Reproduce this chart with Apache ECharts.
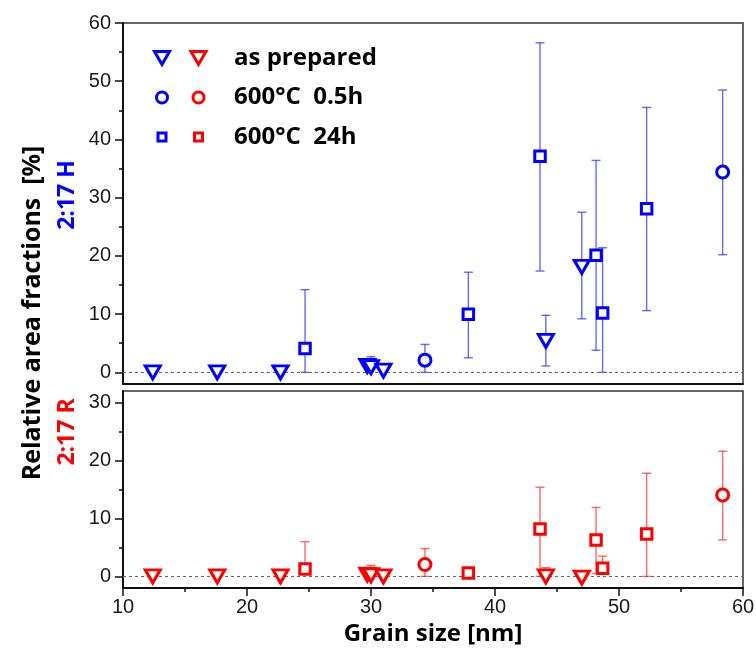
<!DOCTYPE html>
<html><head><meta charset="utf-8">
<script src="https://cdn.jsdelivr.net/npm/echarts@6/dist/echarts.min.js"></script>
<style>html,body{margin:0;padding:0;background:#fff}#c{width:756px;height:655px}</style>
</head><body><div id="c"></div>
<script>
// ---- axis ticks ----
const xTicks = [10, 20, 30, 40, 50, 60];
const yTicksH = [0, 10, 20, 30, 40, 50, 60];
const yMinorH = [5, 15, 25, 35, 45, 55];
const yTicksR = [0, 10, 20, 30];
const yMinorR = [5, 15, 25];

// ---- 2:17 H (top panel, blue) ----
const prepH_x  = [12.4, 17.6, 22.7, 29.7, 30.0, 31.0, 44.1, 47.0];
const prepH_y  = [0, 0, 0, 1.1, 0.9, 0.3, 5.4, 18.1];
const prepH_lo = [0, 0, 0, 1.1, 0.9, 0.3, 1.1, 9.2];
const prepH_hi = [0, 0, 0, 1.1, 2.7, 0.3, 9.8, 27.5];

const circH_x  = [34.35, 58.36];
const circH_y  = [2.1, 34.4];
const circH_lo = [0, 20.2];
const circH_hi = [4.8, 48.5];

const sqH_x  = [24.68, 37.85, 43.63, 48.15, 48.68, 52.23];
const sqH_y  = [4.1, 10.0, 37.1, 20.1, 10.2, 28.1];
const sqH_lo = [0, 2.5, 17.4, 3.8, 0, 10.6];
const sqH_hi = [14.2, 17.2, 56.6, 36.4, 21.4, 45.5];

// ---- 2:17 R (bottom panel, red) ----
const prepR_x  = [12.4, 17.6, 22.7, 29.7, 30.0, 31.0, 44.1, 47.0];
const prepR_y  = [0, 0, 0, 0.3, 0.2, 0, 0, -0.2];
const prepR_lo = [0, 0, 0, 0.3, 0.2, 0, 0, -0.2];
const prepR_hi = [0, 0, 0, 0.3, 1.9, 0, 1.5, -0.2];

const circR_x  = [34.35, 58.36];
const circR_y  = [2.06, 14.06];
const circR_lo = [0, 6.3];
const circR_hi = [4.8, 21.6];

const sqR_x  = [24.68, 37.85, 43.63, 48.15, 48.68, 52.23];
const sqR_y  = [1.3, 0.6, 8.2, 6.3, 1.4, 7.3];
const sqR_lo = [1.3, 0.6, 0, 0.5, 1.4, 0];
const sqR_hi = [6.0, 0.6, 15.4, 11.9, 3.5, 17.8];

const legendLabels = ['as prepared', '600°C  0.5h', '600°C  24h'];

// ---- styling ----
const BLUE = '#0000ff', RED = '#ff0000';
const BLUE_ERR = 'rgba(40,40,255,0.7)', RED_ERR = 'rgba(255,40,40,0.7)';
const TRI = 'path://M0,0 L20,0 L10,17.3 Z';
const LEG_CIRCLE = 'path://M0,0 M2,7.5 a5.5,5.5 0 1,0 11,0 a5.5,5.5 0 1,0 -11,0 M15,15';
const LEG_SQUARE = 'path://M0,0 M3.5,3.5 L11.5,3.5 L11.5,11.5 L3.5,11.5 Z M15,15';
const TITLE_FONT = "'Open Sans', sans-serif";
const NUM_FONT = "'Liberation Sans', Arial, sans-serif";

function pts(xs, ys) { return xs.map((x, i) => [x, ys[i]]); }
function errPts(xs, ys, lo, hi) { return xs.map((x, i) => [x, ys[i], lo[i], hi[i]]); }

function errRender(color) {
  return function (params, api) {
    const x = api.value(0), y = api.value(1), lo = api.value(2), hi = api.value(3);
    const c = api.coord([x, y]);
    const style = { stroke: color, lineWidth: 1.4 };
    const w = 4.5;
    const ch = [];
    if (hi > y) {
      const p = api.coord([x, hi]);
      ch.push({ type: 'line', shape: { x1: p[0], y1: p[1], x2: c[0], y2: c[1] }, style: style });
      ch.push({ type: 'line', shape: { x1: p[0] - w, y1: p[1], x2: p[0] + w, y2: p[1] }, style: style });
    }
    if (lo < y) {
      const p = api.coord([x, lo]);
      ch.push({ type: 'line', shape: { x1: p[0], y1: p[1], x2: c[0], y2: c[1] }, style: style });
      ch.push({ type: 'line', shape: { x1: p[0] - w, y1: p[1], x2: p[0] + w, y2: p[1] }, style: style });
    }
    return { type: 'group', children: ch };
  };
}

function errSeries(idx, data, color) {
  return {
    type: 'custom', xAxisIndex: idx, yAxisIndex: idx, renderItem: errRender(color),
    data: data, encode: { x: 0, y: [1, 2, 3] }, silent: true, z: 2, clip: false
  };
}

function scat(name, idx, data, color, symbol, size) {
  return {
    name: name, type: 'scatter', xAxisIndex: idx, yAxisIndex: idx,
    data: data, symbol: symbol, symbolSize: size, z: 5,
    itemStyle: { color: '#ffffff', borderColor: color, borderWidth: 3, opacity: 1 },
    emphasis: { disabled: true }
  };
}

const zeroLine = (idx) => ({
  type: 'line', xAxisIndex: idx, yAxisIndex: idx, data: [], z: 1,
  markLine: {
    silent: true, symbol: 'none', label: { show: false },
    lineStyle: { type: [3, 3], color: '#666', width: 1 },
    data: [{ yAxis: 0 }], animation: false
  }
});

function yAxes(gridIdx, min, max, majors, minors) {
  return [{
    type: 'value', gridIndex: gridIdx, min: min, max: max, position: 'left',
    axisLine: { show: true, onZero: false, lineStyle: { color: '#111', width: 2 } },
    axisTick: { show: true, length: 8, customValues: majors, lineStyle: { color: '#111', width: 1.5 } },
    axisLabel: { show: true, customValues: majors, margin: 12, color: '#1a1a1a', fontSize: 20, fontFamily: NUM_FONT },
    splitLine: { show: false }
  }, {
    type: 'value', gridIndex: gridIdx, min: min, max: max, position: 'left',
    axisLine: { show: false },
    axisTick: { show: true, length: 4, customValues: minors, lineStyle: { color: '#111', width: 1.5 } },
    axisLabel: { show: false },
    splitLine: { show: false }
  }];
}

const yH = yAxes(0, -2, 60, yTicksH, yMinorH);
const yR = yAxes(1, -2, 32, yTicksR, yMinorR);

const legendIcons = [TRI, LEG_CIRCLE, LEG_SQUARE];
const namesH = ['asprepH', 'c05H', 'c24H'];
const namesR = ['asprepR', 'c05R', 'c24R'];

const option = {
  animation: false,
  backgroundColor: '#ffffff',
  grid: [
    { left: 123, top: 23, width: 620, height: 361, show: true, borderColor: '#333', borderWidth: 1.5, outerBoundsMode: 'none' },
    { left: 123, top: 391, width: 620, height: 197, show: true, borderColor: '#333', borderWidth: 1.5, outerBoundsMode: 'none' }
  ],
  xAxis: [
    {
      type: 'value', gridIndex: 0, min: 10, max: 60, interval: 10,
      axisLine: { show: true, onZero: false, lineStyle: { color: '#111', width: 2 } },
      axisTick: { show: false }, axisLabel: { show: false }, splitLine: { show: false }
    },
    {
      type: 'value', gridIndex: 1, min: 10, max: 60, interval: 10,
      axisLine: { show: true, onZero: false, lineStyle: { color: '#111', width: 2 } },
      axisTick: { show: true, length: 8, lineStyle: { color: '#111', width: 1.5 } },
      minorTick: { show: true, splitNumber: 2, length: 4, lineStyle: { color: '#111', width: 1.5 } },
      axisLabel: { show: true, margin: 9, color: '#1a1a1a', fontSize: 20, fontFamily: NUM_FONT },
      splitLine: { show: false },
      name: 'Grain size [nm]', nameLocation: 'middle', nameGap: 34,
      nameTextStyle: { fontFamily: TITLE_FONT, fontWeight: 'bold', fontSize: 24, color: '#000' }
    }
  ],
  yAxis: [yH[0], yR[0], yH[1], yR[1]],
  legend: [
    {
      orient: 'vertical', left: 153, top: 45, padding: 0, itemWidth: 15, itemHeight: 15, itemGap: 13.5,
      data: namesH.map((n, i) => ({ name: n, icon: legendIcons[i] })), selectedMode: false,
      itemStyle: { borderWidth: 3 },
      formatter: function (n) { return legendLabels[namesH.indexOf(n)]; },
      textStyle: { color: 'rgba(0,0,0,0)', fontFamily: TITLE_FONT, fontWeight: 'bold', fontSize: 24, lineHeight: 26 }
    },
    {
      orient: 'vertical', left: 189.5, top: 45, padding: 0, itemWidth: 15, itemHeight: 15, itemGap: 13.5,
      data: namesR.map((n, i) => ({ name: n, icon: legendIcons[i] })), selectedMode: false,
      itemStyle: { borderWidth: 3 },
      formatter: function (n) { return legendLabels[namesR.indexOf(n)]; },
      textStyle: { color: '#000', fontFamily: TITLE_FONT, fontWeight: 'bold', fontSize: 24, lineHeight: 26, padding: [0, 0, 0, 23] }
    }
  ],
  graphic: [
    { type: 'text', x: 33, y: 313, rotation: Math.PI / 2,
      style: { text: 'Relative area fractions  [%]', font: "bold 25px 'Open Sans'", fill: '#000', align: 'center', verticalAlign: 'middle' } },
    { type: 'text', x: 67, y: 195, rotation: Math.PI / 2,
      style: { text: '2:17 H', font: "bold 23px 'Open Sans'", fill: BLUE, align: 'center', verticalAlign: 'middle' } },
    { type: 'text', x: 67, y: 432, rotation: Math.PI / 2,
      style: { text: '2:17 R', font: "bold 23px 'Open Sans'", fill: RED, align: 'center', verticalAlign: 'middle' } }
  ],
  series: [
    zeroLine(0), zeroLine(1),
    errSeries(0, errPts(prepH_x, prepH_y, prepH_lo, prepH_hi), BLUE_ERR),
    errSeries(0, errPts(circH_x, circH_y, circH_lo, circH_hi), BLUE_ERR),
    errSeries(0, errPts(sqH_x, sqH_y, sqH_lo, sqH_hi), BLUE_ERR),
    errSeries(1, errPts(prepR_x, prepR_y, prepR_lo, prepR_hi), RED_ERR),
    errSeries(1, errPts(circR_x, circR_y, circR_lo, circR_hi), RED_ERR),
    errSeries(1, errPts(sqR_x, sqR_y, sqR_lo, sqR_hi), RED_ERR),
    scat('asprepH', 0, pts(prepH_x, prepH_y), BLUE, TRI, [15, 13]),
    scat('c05H', 0, pts(circH_x, circH_y), BLUE, 'circle', 12),
    scat('c24H', 0, pts(sqH_x, sqH_y), BLUE, 'rect', 10.5),
    scat('asprepR', 1, pts(prepR_x, prepR_y), RED, TRI, [15, 13]),
    scat('c05R', 1, pts(circR_x, circR_y), RED, 'circle', 12),
    scat('c24R', 1, pts(sqR_x, sqR_y), RED, 'rect', 10.5)
  ]
};

const chart = echarts.init(document.getElementById('c'), null, { renderer: 'canvas' });
chart.setOption(option);
</script>
</body></html>
